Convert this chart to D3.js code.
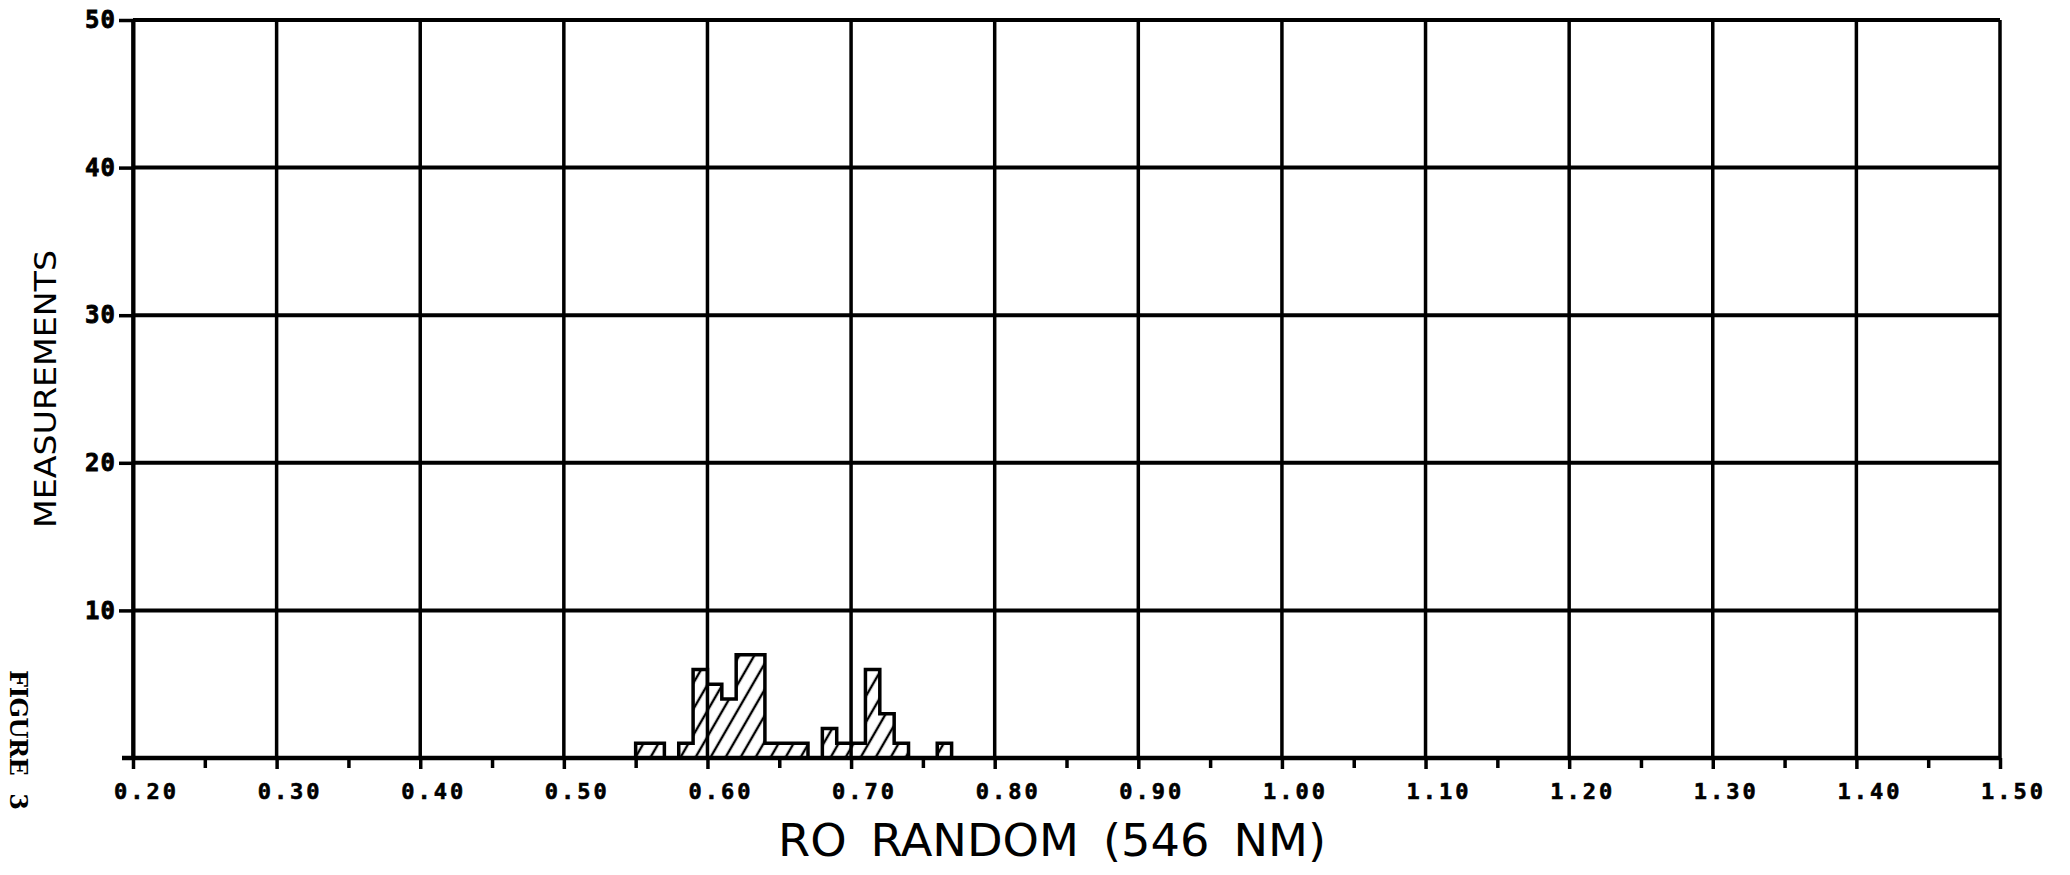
<!DOCTYPE html>
<html>
<head>
<meta charset="utf-8">
<script src="https://cdn.jsdelivr.net/npm/d3@7"></script>
<style>
  body { margin: 0; background: #fff; }
  svg { display: block; }
</style>
</head>
<body>
<div id="chart"></div>
<script>
// histogram bins (0.01 wide) and their counts
const binStarts = [0.55, 0.56, 0.57, 0.58, 0.59, 0.60, 0.61, 0.62, 0.63, 0.64, 0.65,
                   0.66, 0.67, 0.68, 0.69, 0.70, 0.71, 0.72, 0.73, 0.74, 0.75, 0.76];
const counts    = [1, 1, 0, 1, 6, 5, 4, 7, 7, 1, 1,
                   1, 0, 2, 1, 1, 6, 3, 1, 0, 0, 1];
const binWidth = 0.01;

// axis ticks
const xTicks = [0.20, 0.30, 0.40, 0.50, 0.60, 0.70, 0.80, 0.90, 1.00, 1.10, 1.20, 1.30, 1.40, 1.50];
const xMinorTicks = [0.25, 0.35, 0.45, 0.55, 0.65, 0.75, 0.85, 0.95, 1.05, 1.15, 1.25, 1.35, 1.45];
const yTicks = [10, 20, 30, 40, 50];

const xTitle = 'RO RANDOM (546 NM)';
const yTitle = 'MEASUREMENTS';
const figLabel = 'FIGURE 3';

const width = 2070, height = 875;

const svg = d3.select('#chart').append('svg')
    .attr('width', width)
    .attr('height', height);

const scaleX = d3.scaleLinear([0.20, 1.50], [133, 2000]);
const scaleY = d3.scaleLinear([0, 50], [758, 20]);

// hatch pattern for the bars
svg.append('defs').append('pattern')
    .attr('id', 'hatch')
    .attr('patternUnits', 'userSpaceOnUse')
    .attr('width', 13)
    .attr('height', 13)
    .attr('patternTransform', 'rotate(30)')
  .append('line')
    .attr('x1', 6).attr('y1', 0)
    .attr('x2', 6).attr('y2', 13)
    .attr('stroke', '#000')
    .attr('stroke-width', 2.4);

// step outline of the histogram
const steps = binStarts.map((b, i) => ({ x: b, c: counts[i] }));
steps.push({ x: binStarts[binStarts.length - 1] + binWidth, c: 0 });

const area = d3.area()
    .curve(d3.curveStepAfter)
    .x(d => scaleX(d.x))
    .y0(scaleY(0))
    .y1(d => scaleY(d.c));

svg.append('path')
    .datum(steps)
    .attr('d', area)
    .attr('fill', 'url(#hatch)')
    .attr('stroke', '#000')
    .attr('stroke-width', 3.5)
    .attr('stroke-linejoin', 'miter');

// grid
const grid = svg.append('g').attr('stroke', '#000');
grid.selectAll('line.v')
    .data(xTicks)
    .join('line')
    .classed('v', true)
    .attr('x1', d => scaleX(d)).attr('x2', d => scaleX(d))
    .attr('y1', scaleY(50)).attr('y2', scaleY(0))
    .attr('stroke-width', 3.5);
grid.selectAll('line.h')
    .data(yTicks)
    .join('line')
    .classed('h', true)
    .attr('x1', scaleX(0.20)).attr('x2', scaleX(1.50))
    .attr('y1', d => scaleY(d)).attr('y2', d => scaleY(d))
    .attr('stroke-width', 4);

// x axis: major ticks with labels, minor ticks without
const axisX = svg.append('g')
    .attr('transform', `translate(0, ${scaleY(0)})`)
    .call(d3.axisBottom(scaleX).tickValues(xTicks).tickSizeInner(11).tickSizeOuter(0)
        .tickPadding(14).tickFormat(d => d.toFixed(2)));
axisX.select('.domain').remove();
axisX.selectAll('line').attr('stroke-width', 3.5);
axisX.selectAll('text')
    .attr('dx', 13)
    .attr('fill', '#000')
    .attr('stroke', '#000')
    .attr('stroke-width', 0.6)
    .style('font-family', '"DejaVu Sans Mono", monospace')
    .style('font-weight', 'bold')
    .style('font-size', '22px')
    .style('letter-spacing', '3px');

const axisMinor = svg.append('g')
    .attr('transform', `translate(0, ${scaleY(0)})`)
    .call(d3.axisBottom(scaleX).tickValues(xMinorTicks).tickSizeInner(10).tickSizeOuter(0).tickFormat(''));
axisMinor.select('.domain').remove();
axisMinor.selectAll('line').attr('stroke-width', 3.5);

// baseline runs a little past the y axis
svg.append('line')
    .attr('x1', scaleX(0.20) - 11).attr('x2', scaleX(1.50))
    .attr('y1', scaleY(0)).attr('y2', scaleY(0))
    .attr('stroke', '#000').attr('stroke-width', 4.5);

// y axis
const axisY = svg.append('g')
    .attr('transform', `translate(${scaleX(0.20)}, 0)`)
    .call(d3.axisLeft(scaleY).tickValues(yTicks).tickSizeInner(14).tickSizeOuter(0).tickPadding(3));
axisY.select('.domain').attr('stroke-width', 4);
axisY.selectAll('line').attr('stroke-width', 3.5);
axisY.selectAll('text')
    .attr('fill', '#000')
    .attr('stroke', '#000')
    .attr('stroke-width', 0.8)
    .style('font-family', '"DejaVu Sans Mono", monospace')
    .style('font-weight', 'bold')
    .style('font-size', '24px')
    .style('letter-spacing', '1px');

// titles
svg.append('text')
    .attr('transform', 'translate(1052, 856)')
    .attr('text-anchor', 'middle')
    .attr('textLength', 548)
    .attr('lengthAdjust', 'spacingAndGlyphs')
    .style('font-family', '"DejaVu Sans Condensed", "DejaVu Sans", sans-serif')
    .style('font-size', '44px')
    .style('word-spacing', '8px')
    .text(xTitle);

svg.append('text')
    .attr('transform', 'translate(56, 389) rotate(-90)')
    .attr('text-anchor', 'middle')
    .attr('textLength', 278)
    .attr('lengthAdjust', 'spacingAndGlyphs')
    .style('font-family', '"DejaVu Sans", sans-serif')
    .style('font-size', '31px')
    .text(yTitle);

svg.append('text')
    .attr('transform', 'translate(10, 740) rotate(90)')
    .attr('text-anchor', 'middle')
    .attr('textLength', 140)
    .attr('lengthAdjust', 'spacing')
    .style('font-family', '"DejaVu Serif", serif')
    .style('font-weight', 'bold')
    .style('font-size', '24px')
    .style('word-spacing', '10px')
    .text(figLabel);
</script>
</body>
</html>
